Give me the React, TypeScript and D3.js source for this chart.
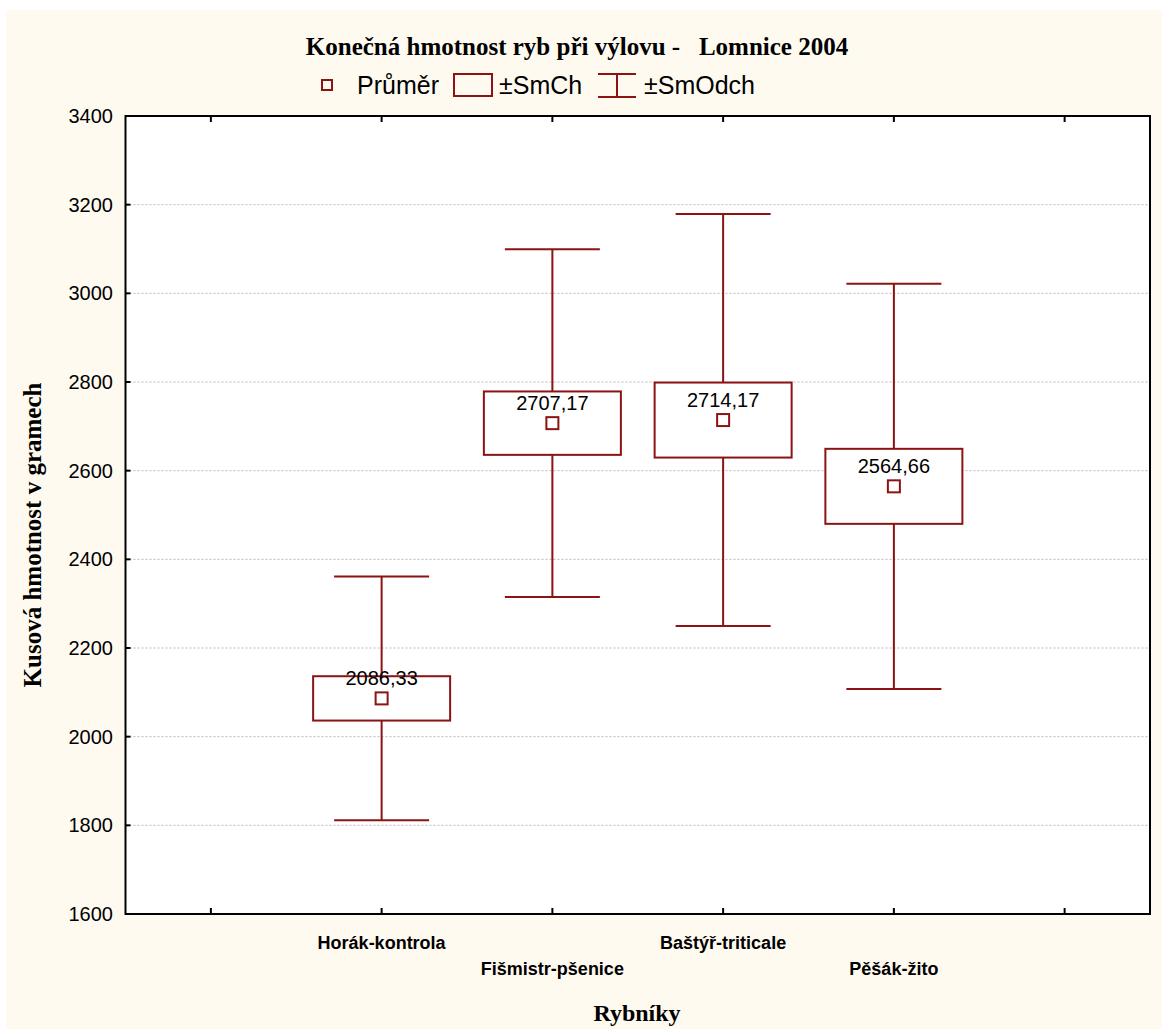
import { useEffect, useRef } from 'react';
import * as d3 from 'd3';

const categories = ['Horák-kontrola', 'Fišmistr-pšenice', 'Baštýř-triticale', 'Pěšák-žito'];
const means = [2086.33, 2707.17, 2714.17, 2564.66];
const stdErrors = [50, 71.5, 84.6, 84.6];
const stdDevs = [275, 392, 464.6, 457];
const yTicks = [1600, 1800, 2000, 2200, 2400, 2600, 2800, 3000, 3200, 3400];

const W = 1162;
const H = 1029;
const RED = '#8b1313';
const SANS = 'Liberation Sans, Arial, sans-serif';
const SERIF = 'Liberation Serif, Times New Roman, serif';

const App = () => {
  const ref = useRef<SVGSVGElement>(null);

  useEffect(() => {
    const svg = d3.select(ref.current);
    svg.selectAll('*').remove();

    const left = 125.5;
    const right = 1150;
    const top = 116;
    const bottom = 914;

    const x = d3.scaleLinear().domain([-0.5, 5.5]).range([left, right]);
    const y = d3.scaleLinear().domain([1600, 3400]).range([bottom, top]);

    svg.append('rect').attr('x', 6).attr('y', 10).attr('width', W - 6).attr('height', H - 10).attr('fill', '#fffaf0');
    svg.append('rect').attr('x', left).attr('y', top).attr('width', right - left).attr('height', bottom - top).attr('fill', '#fff');

    // grid
    svg.append('g')
      .selectAll('line')
      .data(yTicks.slice(1, -1))
      .enter()
      .append('line')
      .attr('x1', left)
      .attr('x2', right)
      .attr('y1', (d) => y(d))
      .attr('y2', (d) => y(d))
      .attr('stroke', '#b8b8b8')
      .attr('stroke-width', 1)
      .attr('stroke-dasharray', '2,2');

    const data = categories.map((c, i) => ({ c, i, m: means[i], se: stdErrors[i], sd: stdDevs[i] }));
    const g = svg.append('g').attr('fill', 'none').attr('stroke', RED).attr('stroke-width', 2);
    const boxW = 137;
    const capW = 95;

    data.forEach((d) => {
      const cx = x(d.i + 1);
      // whisker
      g.append('line').attr('x1', cx).attr('x2', cx).attr('y1', y(d.m + d.sd)).attr('y2', y(d.m - d.sd));
      g.append('line').attr('x1', cx - capW / 2).attr('x2', cx + capW / 2).attr('y1', y(d.m + d.sd)).attr('y2', y(d.m + d.sd));
      g.append('line').attr('x1', cx - capW / 2).attr('x2', cx + capW / 2).attr('y1', y(d.m - d.sd)).attr('y2', y(d.m - d.sd));
      // box
      g.append('rect')
        .attr('x', cx - boxW / 2)
        .attr('y', y(d.m + d.se))
        .attr('width', boxW)
        .attr('height', y(d.m - d.se) - y(d.m + d.se))
        .attr('fill', '#fff');
      // mean
      g.append('rect').attr('x', cx - 6).attr('y', y(d.m) - 6).attr('width', 12).attr('height', 12).attr('fill', '#fff');
      svg.append('text')
        .attr('x', cx)
        .attr('y', y(d.m) - 13)
        .attr('text-anchor', 'middle')
        .attr('font-family', SANS)
        .attr('font-size', 20)
        .attr('fill', '#000')
        .text(d3.format('.2f')(d.m).replace('.', ','));
    });

    // frame
    svg.append('rect').attr('x', left).attr('y', top).attr('width', right - left).attr('height', bottom - top)
      .attr('fill', 'none').attr('stroke', '#000').attr('stroke-width', 2);

    // y ticks
    const ya = svg.append('g').attr('font-family', SANS).attr('font-size', 20);
    yTicks.forEach((t) => {
      ya.append('line').attr('x1', left).attr('x2', left + 5).attr('y1', y(t)).attr('y2', y(t)).attr('stroke', '#000').attr('stroke-width', 2);
      ya.append('text').attr('x', 113).attr('y', y(t) + 7).attr('text-anchor', 'end').text(t);
    });

    // x ticks
    d3.range(0, 6).forEach((t) => {
      svg.append('line').attr('x1', x(t)).attr('x2', x(t)).attr('y1', bottom).attr('y2', bottom - 6).attr('stroke', '#000').attr('stroke-width', 2);
      svg.append('line').attr('x1', x(t)).attr('x2', x(t)).attr('y1', top).attr('y2', top + 6).attr('stroke', '#000').attr('stroke-width', 2);
    });

    categories.forEach((c, i) => {
      svg.append('text')
        .attr('x', x(i + 1))
        .attr('y', i % 2 === 0 ? 949 : 975)
        .attr('text-anchor', 'middle')
        .attr('font-family', SANS)
        .attr('font-weight', 'bold')
        .attr('font-size', 18)
        .text(c);
    });

    // titles
    svg.append('text')
      .attr('x', 577).attr('y', 55)
      .attr('text-anchor', 'middle')
      .attr('font-family', SERIF)
      .attr('font-weight', 'bold')
      .attr('font-size', 25)
      .style('white-space', 'pre')
      .text('Konečná hmotnost ryb při výlovu -   Lomnice 2004');

    svg.append('text')
      .attr('transform', 'translate(41,535) rotate(-90)')
      .attr('text-anchor', 'middle')
      .attr('font-family', SERIF)
      .attr('font-weight', 'bold')
      .attr('font-size', 25)
      .text('Kusová hmotnost v gramech');

    svg.append('text')
      .attr('x', 637).attr('y', 1021)
      .attr('text-anchor', 'middle')
      .attr('font-family', SERIF)
      .attr('font-weight', 'bold')
      .attr('font-size', 24)
      .text('Rybníky');

    // legend
    const lg = svg.append('g').attr('font-family', SANS).attr('font-size', 25);
    lg.append('rect').attr('x', 322).attr('y', 80).attr('width', 10).attr('height', 10).attr('fill', 'none').attr('stroke', RED).attr('stroke-width', 2);
    lg.append('text').attr('x', 357).attr('y', 94).text('Průměr');
    lg.append('rect').attr('x', 454).attr('y', 74).attr('width', 38).attr('height', 22).attr('fill', 'none').attr('stroke', RED).attr('stroke-width', 2);
    lg.append('text').attr('x', 499).attr('y', 94).text('±SmCh');
    lg.append('line').attr('x1', 598).attr('x2', 636).attr('y1', 74).attr('y2', 74).attr('stroke', RED).attr('stroke-width', 2);
    lg.append('line').attr('x1', 598).attr('x2', 636).attr('y1', 97).attr('y2', 97).attr('stroke', RED).attr('stroke-width', 2);
    lg.append('line').attr('x1', 617).attr('x2', 617).attr('y1', 74).attr('y2', 97).attr('stroke', RED).attr('stroke-width', 2);
    lg.append('text').attr('x', 644).attr('y', 94).text('±SmOdch');
  }, []);

  return (
    <div style={{ position: 'absolute', left: 0, top: 0 }}>
      <svg ref={ref} width={W} height={H} style={{ display: 'block' }} />
    </div>
  );
};

export default App;
